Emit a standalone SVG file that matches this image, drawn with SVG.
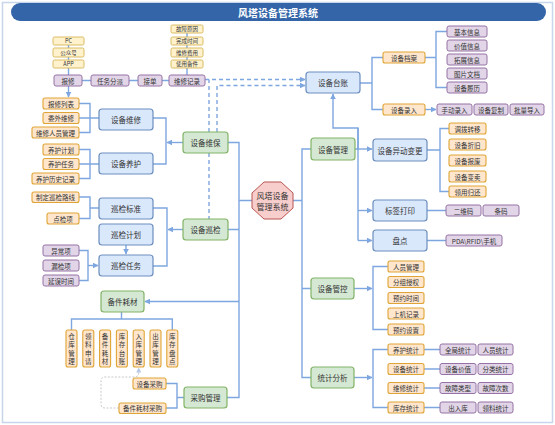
<svg xmlns="http://www.w3.org/2000/svg" width="555" height="425" viewBox="0 0 555 425">
<defs>
<style>
text{font-family:"Noto Sans CJK SC","Noto Sans",sans-serif;fill:#333;text-anchor:middle;dominant-baseline:central}
.b{fill:#dae8fc;stroke:#6c8ebf;stroke-width:1.2}
.g{fill:#d5e8d4;stroke:#82b366;stroke-width:1.2}
.o{fill:#ffe6cc;stroke:#e0a436;stroke-width:1.1}
.y{fill:#fff2cc;stroke:#d6b656;stroke-width:0.9}
.p{fill:#e1d5e7;stroke:#9673a6;stroke-width:1}
.t7{font-size:7.5px}
.t6{font-size:6.5px}
.t5{font-size:5.5px}
.c{fill:none;stroke:#7ea6e0;stroke-width:1.4}
.d{fill:none;stroke:#7ea6e0;stroke-width:1.4;stroke-dasharray:4,3}
.gd{fill:none;stroke:#c9c9c9;stroke-width:1;stroke-dasharray:2,1.5}
</style>
<marker id="a" viewBox="0 0 10 10" refX="9" refY="5" markerWidth="6" markerHeight="6" markerUnits="userSpaceOnUse" orient="auto"><path d="M0,0L10,5L0,10z" fill="#7ea6e0"/></marker>
<marker id="ag" viewBox="0 0 10 10" refX="9" refY="5" markerWidth="5" markerHeight="5" markerUnits="userSpaceOnUse" orient="auto"><path d="M0,0L10,5L0,10z" fill="#b5c8e6"/></marker>
</defs>
<rect x="0" y="0" width="555" height="425" fill="#fff"/>
<rect x="2.5" y="2.5" width="550" height="420" fill="none" stroke="#c8d6ec" stroke-width="1.5"/>
<g id="title"><rect x="11" y="3" width="535" height="18" rx="9" fill="#3465a8"/><text x="278" y="12" style="fill:#fff;font-size:10px;font-weight:bold">风塔设备管理系统</text></g>

<g id="connectors">
<path class="c" d="M68.5,45V75"/>
<path class="c" d="M187,33V75"/>
<path class="c" d="M82,80.5H169"/>
<path class="c" d="M68.5,86V97" marker-end="url(#a)"/>
<path class="c" d="M79,103.5H90V132.5H79M79,118H99"/>
<path class="c" d="M153,118H166V164H153"/>
<path class="c" d="M183,142.5H167" marker-end="url(#a)"/>
<path class="c" d="M79,149.5H90V178.5H79M79,164H99"/>
<path class="c" d="M79,197H90V218.5H79M90,208H99"/>
<path class="c" d="M126,245V254" marker-end="url(#a)"/>
<path class="c" d="M79,250.5H88V280.5H79"/>
<path class="c" d="M88,265.5H98" marker-end="url(#a)"/>
<path class="c" d="M153,208H167V266H153"/>
<path class="c" d="M183,229.5H168" marker-end="url(#a)"/>
<path class="d" d="M209,153V219"/>
<path class="d" d="M205,79.5H305" marker-end="url(#a)"/>
<path class="d" d="M209,132V79.5"/>
<path class="d" d="M217,132V85.5H305" marker-end="url(#a)"/>
<path class="c" d="M228,142.5H239V397.5H227M227,229.5H239M252,200.5H239"/>
<path class="c" d="M239,301.5H145" marker-end="url(#a)"/>
<path class="c" d="M121.5,312V319M71.5,330V319H172.3V330"/>
<path class="c" d="M166,383.5H177V408H166M177,397.5H184"/>
<path class="gd" d="M119,408H105Q101,408 101,404V381Q101,377 105,377H134Q138.7,377 138.7,373V368" marker-end="url(#ag)"/>
<path class="c" d="M293,200.5H302M311,149H302V377.5H311M302,288.5H311"/>
<path class="c" d="M355,149H358V128H333V94" marker-end="url(#a)"/>
<path class="c" d="M358,128V240.5"/>
<path class="c" d="M358,149H372" marker-end="url(#a)"/>
<path class="c" d="M358,210.5H372" marker-end="url(#a)"/>
<path class="c" d="M358,240.5H372" marker-end="url(#a)"/>
<path class="c" d="M360,83H372M383,57.5H372V109.5H383"/>
<path class="c" d="M425,109.5H436" marker-end="url(#a)"/>
<path class="c" d="M425,57.5H436M447,31.5H436V87.5H447"/>
<path class="c" d="M427,150H440M450,128.5H440V191.5H450"/>
<path class="c" d="M427,210.5H446M427,240.5H446"/>
<path class="c" d="M354,288.5H372" marker-end="url(#a)"/>
<path class="c" d="M388,266.5H373V329.5H388"/>
<path class="c" d="M354,377.5H372" marker-end="url(#a)"/>
<path class="c" d="M388,349.5H373V407.5H388"/>
<path class="c" d="M424,349.5H440M424,369H440M424,388H440M424,407.5H440"/>
</g>

<g id="n-pc"><rect class="y" x="53" y="37" width="31" height="8" rx="1.5"/><text class="t5" x="68.5" y="41">PC</text></g>
<g id="n-gzh"><rect class="y" x="53" y="48" width="31" height="9" rx="1.5"/><text class="t5" x="68.5" y="52.5">公众号</text></g>
<g id="n-app"><rect class="y" x="53" y="60" width="31" height="8" rx="1.5"/><text class="t5" x="68.5" y="64">APP</text></g>
<g id="n-gzyy"><rect class="y" x="171" y="25" width="32" height="8" rx="1.5"/><text class="t5" x="187" y="29">故障原因</text></g>
<g id="n-wcsj"><rect class="y" x="171" y="37" width="32" height="8" rx="1.5"/><text class="t5" x="187" y="41">完成时间</text></g>
<g id="n-wxfy"><rect class="y" x="171" y="48" width="32" height="9" rx="1.5"/><text class="t5" x="187" y="52.5">维修费用</text></g>
<g id="n-sybj"><rect class="y" x="171" y="60" width="32" height="8" rx="1.5"/><text class="t5" x="187" y="64">使用备件</text></g>

<g id="n-bx"><rect class="p" x="54" y="75" width="28" height="11" rx="2"/><text class="t6" x="68" y="80.5">报修</text></g>
<g id="n-rwfp"><rect class="p" x="91" y="75" width="38" height="11" rx="2"/><text class="t6" x="110" y="80.5">任务分派</text></g>
<g id="n-jd"><rect class="p" x="138" y="75" width="24" height="11" rx="2"/><text class="t6" x="150" y="80.5">接单</text></g>
<g id="n-wxjl"><rect class="p" x="169" y="75" width="36" height="11" rx="2"/><text class="t6" x="187" y="80.5">维修记录</text></g>

<g id="n-bxlb"><rect class="o" x="43" y="98" width="36" height="11" rx="2"/><text class="t6" x="61" y="103.5">报修列表</text></g>
<g id="n-wwwx"><rect class="o" x="43" y="112.5" width="36" height="11" rx="2"/><text class="t6" x="61" y="118">委外维修</text></g>
<g id="n-wxrygl"><rect class="o" x="32" y="127" width="47" height="11" rx="2"/><text class="t6" x="55.5" y="132.5">维修人员管理</text></g>
<g id="n-sbwx"><rect class="b" x="99" y="109" width="54" height="21" rx="3"/><text class="t7" x="126" y="119.5">设备维修</text></g>

<g id="n-yhjh"><rect class="o" x="43" y="144" width="36" height="11" rx="2"/><text class="t6" x="61" y="149.5">养护计划</text></g>
<g id="n-yhrw"><rect class="o" x="43" y="158.5" width="36" height="11" rx="2"/><text class="t6" x="61" y="164">养护任务</text></g>
<g id="n-yhlsjl"><rect class="o" x="32" y="173" width="47" height="11" rx="2"/><text class="t6" x="55.5" y="178.5">养护历史记录</text></g>
<g id="n-sbyh"><rect class="b" x="99" y="153" width="54" height="21" rx="3"/><text class="t7" x="126" y="163.5">设备养护</text></g>

<g id="n-sbwb"><rect class="g" x="183" y="132" width="45" height="21" rx="3"/><text class="t7" x="205.5" y="142.5">设备维保</text></g>
<g id="n-sbxj"><rect class="g" x="183" y="219" width="45" height="21" rx="3"/><text class="t7" x="205.5" y="229.5">设备巡检</text></g>

<g id="n-zdxjlx"><rect class="o" x="32" y="192" width="47" height="10.5" rx="2"/><text class="t6" x="55.5" y="197.3">制定巡检路线</text></g>
<g id="n-djx"><rect class="o" x="47" y="213" width="32" height="11" rx="2"/><text class="t6" x="63" y="218.5">点检项</text></g>
<g id="n-xjbz"><rect class="b" x="99" y="198" width="54" height="21" rx="3"/><text class="t7" x="126" y="208.5">巡检标准</text></g>
<g id="n-xjjh"><rect class="b" x="99" y="224" width="54" height="21" rx="3"/><text class="t7" x="126" y="234.5">巡检计划</text></g>
<g id="n-xjrw"><rect class="b" x="99" y="255" width="54" height="21" rx="3"/><text class="t7" x="126" y="265.5">巡检任务</text></g>
<g id="n-ycx"><rect class="p" x="43" y="245" width="36" height="11" rx="2"/><text class="t6" x="61" y="250.5">异常项</text></g>
<g id="n-ljx"><rect class="p" x="43" y="260" width="36" height="11" rx="2"/><text class="t6" x="61" y="265.5">漏检项</text></g>
<g id="n-ywsj"><rect class="p" x="43" y="275" width="36" height="11" rx="2"/><text class="t6" x="61" y="280.5">延误时间</text></g>

<g id="n-bjhc"><rect class="g" x="101" y="291" width="43" height="21" rx="3"/><text class="t7" x="122.5" y="301.5">备件耗材</text></g>
<g id="n-v1"><rect class="o" x="66" y="330" width="11" height="37" rx="2"/><text class="t6"><tspan x="71.5" y="335.5">仓</tspan><tspan x="71.5" y="344">库</tspan><tspan x="71.5" y="352.5">管</tspan><tspan x="71.5" y="361">理</tspan></text></g>
<g id="n-v2"><rect class="o" x="82.8" y="330" width="11" height="37" rx="2"/><text class="t6"><tspan x="88.3" y="335.5">领</tspan><tspan x="88.3" y="344">料</tspan><tspan x="88.3" y="352.5">申</tspan><tspan x="88.3" y="361">请</tspan></text></g>
<g id="n-v3"><rect class="o" x="99.6" y="330" width="11" height="37" rx="2"/><text class="t6"><tspan x="105.1" y="335.5">备</tspan><tspan x="105.1" y="344">件</tspan><tspan x="105.1" y="352.5">耗</tspan><tspan x="105.1" y="361">材</tspan></text></g>
<g id="n-v4"><rect class="o" x="116.4" y="330" width="11" height="37" rx="2"/><text class="t6"><tspan x="121.9" y="335.5">库</tspan><tspan x="121.9" y="344">存</tspan><tspan x="121.9" y="352.5">台</tspan><tspan x="121.9" y="361">账</tspan></text></g>
<g id="n-v5"><rect class="o" x="133.2" y="330" width="11" height="37" rx="2"/><text class="t6"><tspan x="138.7" y="335.5">入</tspan><tspan x="138.7" y="344">库</tspan><tspan x="138.7" y="352.5">管</tspan><tspan x="138.7" y="361">理</tspan></text></g>
<g id="n-v6"><rect class="o" x="150" y="330" width="11" height="37" rx="2"/><text class="t6"><tspan x="155.5" y="335.5">出</tspan><tspan x="155.5" y="344">库</tspan><tspan x="155.5" y="352.5">管</tspan><tspan x="155.5" y="361">理</tspan></text></g>
<g id="n-v7"><rect class="o" x="166.8" y="330" width="11" height="37" rx="2"/><text class="t6"><tspan x="172.3" y="335.5">库</tspan><tspan x="172.3" y="344">存</tspan><tspan x="172.3" y="352.5">盘</tspan><tspan x="172.3" y="361">点</tspan></text></g>

<g id="n-cggl"><rect class="g" x="184" y="387" width="43" height="21" rx="3"/><text class="t7" x="205.5" y="397.5">采购管理</text></g>
<g id="n-sbcg"><rect class="o" x="133" y="378" width="33" height="11" rx="2"/><text class="t6" x="149.5" y="383.5">设备采购</text></g>
<g id="n-bjhccg"><rect class="o" x="119" y="403" width="47" height="10.5" rx="2"/><text class="t6" x="142.5" y="408.3">备件耗材采购</text></g>

<g id="n-root"><polygon points="264,182 281,182 293,193 293,208 281,219 264,219 252,208 252,193" fill="#f8cecc" stroke="#b85450" stroke-width="1"/><text style="font-size:8px" x="272.5" y="195.5">风塔设备</text><text style="font-size:8px" x="272.5" y="206">管理系统</text></g>

<g id="n-sbtz"><rect class="b" x="306" y="72" width="54" height="21" rx="3"/><text class="t7" x="333" y="82.5">设备台账</text></g>
<g id="n-sbda"><rect class="o" x="383" y="52" width="42" height="11" rx="2"/><text class="t6" x="404" y="57.5">设备档案</text></g>
<g id="n-sblr"><rect class="o" x="383" y="104" width="42" height="11" rx="2"/><text class="t6" x="404" y="109.5">设备录入</text></g>
<g id="n-jbxx"><rect class="p" x="447" y="26" width="40" height="11" rx="2"/><text class="t6" x="467" y="31.5">基本信息</text></g>
<g id="n-jzxx"><rect class="p" x="447" y="40" width="40" height="11" rx="2"/><text class="t6" x="467" y="45.5">价值信息</text></g>
<g id="n-tzxx"><rect class="p" x="447" y="54" width="40" height="11" rx="2"/><text class="t6" x="467" y="59.5">拓展信息</text></g>
<g id="n-tpwd"><rect class="p" x="447" y="68" width="40" height="11" rx="2"/><text class="t6" x="467" y="73.5">图片文档</text></g>
<g id="n-sbll"><rect class="p" x="447" y="82" width="40" height="11" rx="2"/><text class="t6" x="467" y="87.5">设备履历</text></g>
<g id="n-sdlr"><rect class="p" x="437" y="104" width="35" height="11" rx="2"/><text class="t6" x="454.5" y="109.5">手动录入</text></g>
<g id="n-sbfz"><rect class="p" x="474" y="104" width="34" height="11" rx="2"/><text class="t6" x="491" y="109.5">设备复制</text></g>
<g id="n-pldr"><rect class="p" x="510" y="104" width="34" height="11" rx="2"/><text class="t6" x="527" y="109.5">批量导入</text></g>

<g id="n-sbgl"><rect class="g" x="311" y="138" width="44" height="22" rx="3"/><text class="t7" x="333" y="149">设备管理</text></g>
<g id="n-sbydbg"><rect class="b" x="373" y="139" width="54" height="22" rx="3"/><text class="t7" x="400" y="150">设备异动变更</text></g>
<g id="n-dbzy"><rect class="o" x="449" y="123" width="37" height="11" rx="2"/><text class="t6" x="467.5" y="128.5">调拨转移</text></g>
<g id="n-sbzj"><rect class="o" x="449" y="139" width="37" height="11" rx="2"/><text class="t6" x="467.5" y="144.5">设备折旧</text></g>
<g id="n-sbbf"><rect class="o" x="449" y="155" width="37" height="11" rx="2"/><text class="t6" x="467.5" y="160.5">设备报废</text></g>
<g id="n-sbbm"><rect class="o" x="449" y="171" width="37" height="11" rx="2"/><text class="t6" x="467.5" y="176.5">设备变卖</text></g>
<g id="n-lygh"><rect class="o" x="449" y="186" width="37" height="11" rx="2"/><text class="t6" x="467.5" y="191.5">领用归还</text></g>
<g id="n-bqdy"><rect class="b" x="373" y="200" width="54" height="21" rx="3"/><text class="t7" x="400" y="210.5">标签打印</text></g>
<g id="n-ewm"><rect class="p" x="446" y="205" width="35" height="11" rx="2"/><text class="t6" x="463.5" y="210.5">二维码</text></g>
<g id="n-tm"><rect class="p" x="483" y="205" width="36" height="11" rx="2"/><text class="t6" x="501" y="210.5">条码</text></g>
<g id="n-pd"><rect class="b" x="373" y="230" width="54" height="21" rx="3"/><text class="t7" x="400" y="240.5">盘点</text></g>
<g id="n-pda"><rect class="p" x="446" y="235" width="56" height="11" rx="2"/><text class="t6" x="474" y="240.5">PDA\RFID\手机</text></g>

<g id="n-sbgk"><rect class="g" x="311" y="278" width="43" height="21" rx="3"/><text class="t7" x="332.5" y="288.5">设备管控</text></g>
<g id="n-rygl"><rect class="o" x="388" y="261" width="36" height="11" rx="2"/><text class="t6" x="406" y="266.5">人员管理</text></g>
<g id="n-fzsq"><rect class="o" x="388" y="276.5" width="36" height="11" rx="2"/><text class="t6" x="406" y="282">分组授权</text></g>
<g id="n-yysj"><rect class="o" x="388" y="292.5" width="36" height="11" rx="2"/><text class="t6" x="406" y="298">预约时间</text></g>
<g id="n-sjjl"><rect class="o" x="388" y="308" width="36" height="11" rx="2"/><text class="t6" x="406" y="313.5">上机记录</text></g>
<g id="n-yysz"><rect class="o" x="388" y="324" width="36" height="11" rx="2"/><text class="t6" x="406" y="329.5">预约设置</text></g>

<g id="n-tjfx"><rect class="g" x="311" y="367" width="43" height="21" rx="3"/><text class="t7" x="332.5" y="377.5">统计分析</text></g>
<g id="n-yhtj"><rect class="o" x="388" y="344" width="36" height="11" rx="2"/><text class="t6" x="406" y="349.5">养护统计</text></g>
<g id="n-sbtj"><rect class="o" x="388" y="363.5" width="36" height="11" rx="2"/><text class="t6" x="406" y="369">设备统计</text></g>
<g id="n-wxtj"><rect class="o" x="388" y="382.5" width="36" height="11" rx="2"/><text class="t6" x="406" y="388">维修统计</text></g>
<g id="n-kctj"><rect class="o" x="388" y="402" width="36" height="11" rx="2"/><text class="t6" x="406" y="407.5">库存统计</text></g>
<g id="n-qjtj"><rect class="p" x="440" y="344" width="36" height="11" rx="2"/><text class="t6" x="458" y="349.5">全局统计</text></g>
<g id="n-rytj"><rect class="p" x="478" y="344" width="35" height="11" rx="2"/><text class="t6" x="495.5" y="349.5">人员统计</text></g>
<g id="n-sbjz"><rect class="p" x="440" y="363.5" width="36" height="11" rx="2"/><text class="t6" x="458" y="369">设备价值</text></g>
<g id="n-fltj"><rect class="p" x="478" y="363.5" width="35" height="11" rx="2"/><text class="t6" x="495.5" y="369">分类统计</text></g>
<g id="n-gzlx"><rect class="p" x="440" y="382.5" width="36" height="11" rx="2"/><text class="t6" x="458" y="388">故障类型</text></g>
<g id="n-gzcs"><rect class="p" x="478" y="382.5" width="35" height="11" rx="2"/><text class="t6" x="495.5" y="388">故障次数</text></g>
<g id="n-crk"><rect class="p" x="440" y="402" width="36" height="11" rx="2"/><text class="t6" x="458" y="407.5">出入库</text></g>
<g id="n-lltj"><rect class="p" x="478" y="402" width="35" height="11" rx="2"/><text class="t6" x="495.5" y="407.5">领料统计</text></g>
</svg>
